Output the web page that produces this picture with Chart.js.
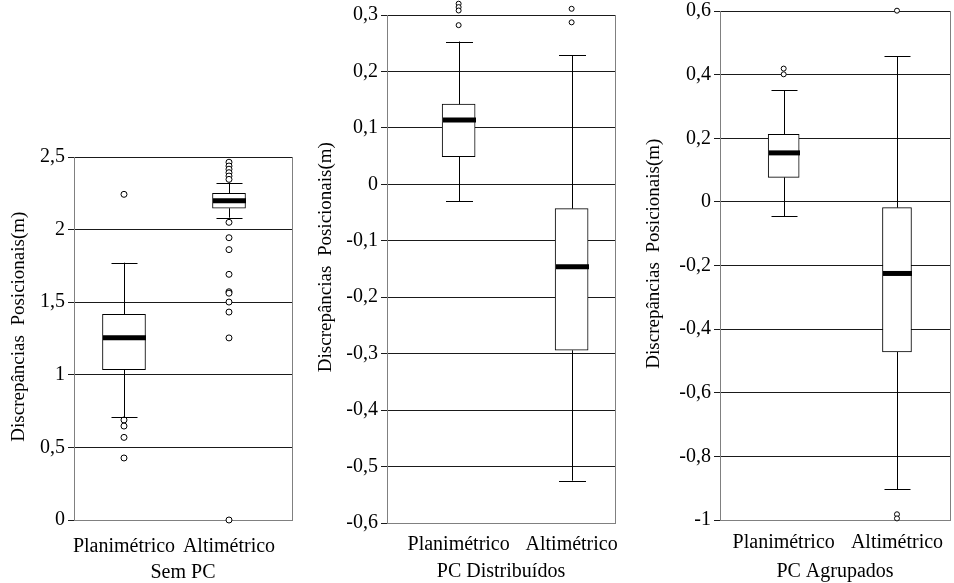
<!DOCTYPE html>
<html>
<head>
<meta charset="utf-8">
<script src="https://cdn.jsdelivr.net/npm/chart.js@4"></script>
<style>
  body { margin: 0; background: #fff; }
  canvas { position: absolute; top: 0; }
</style>
</head>
<body>
<canvas id="semPc" width="300" height="583" style="left:0"></canvas>
<canvas id="pcDist" width="320" height="583" style="left:300px"></canvas>
<canvas id="pcAgrup" width="324" height="583" style="left:630px"></canvas>
<script>
// categories and panel names
const categories = ['Planimétrico', 'Altimétrico'];
const panelTitles = ['Sem PC', 'PC Distribuídos', 'PC Agrupados'];
const yTitle = '     Discrepâncias  Posicionais(m)';

// five numbers per box: lower whisker, q1, median, q3, upper whisker
const semPcPlan = [0.707, 1.035, 1.256, 1.417, 1.772];
const semPcAlt = [2.082, 2.147, 2.199, 2.249, 2.323];
const distPlan = [-0.030, 0.049, 0.114, 0.142, 0.253];
const distAlt = [-0.525, -0.294, -0.146, -0.043, 0.229];
const agrupPlan = [-0.045, 0.077, 0.154, 0.212, 0.351];
const agrupAlt = [-0.904, -0.472, -0.225, -0.018, 0.458];

// outliers
const semPcPlanOut = [2.243, 0.689, 0.647, 0.569, 0.427];
const semPcAltOut = [2.464, 2.438, 2.416, 2.392, 2.369, 2.346, 2.05, 1.944, 1.862, 1.692, 1.572, 1.562, 1.501, 1.432, 1.254, 0.0];
const distPlanOut = [0.320, 0.314, 0.308, 0.282];
const distAltOut = [0.311, 0.287];
const agrupPlanOut = [0.419, 0.401];
const agrupAltOut = [0.601, -0.982, -0.995];

// y axis: min, max, step
const semPcTicks = [0, 2.5, 0.5];
const distTicks = [-0.6, 0.3, 0.1];
const agrupTicks = [-1, 0.6, 0.2];

Chart.defaults.font.family = "'Liberation Serif', 'Times New Roman', serif";
Chart.defaults.font.size = 20;
Chart.defaults.color = '#000';

const boxWhiskers = {
  id: 'boxWhiskers',
  afterDatasetsDraw(chart, args, opts) {
    const { ctx, chartArea, scales: { x, y } } = chart;
    ctx.save();
    // right frame line
    ctx.strokeStyle = '#808080';
    ctx.lineWidth = 1;
    ctx.beginPath();
    ctx.moveTo(Math.round(chartArea.right) + 0.5, chartArea.top);
    ctx.lineTo(Math.round(chartArea.right) + 0.5, chartArea.bottom);
    ctx.stroke();

    ctx.strokeStyle = '#000';
    opts.boxes.forEach((b, i) => {
      const cx = Math.round(x.getPixelForValue(i + 1)) + 0.5;
      const [lo, q1, med, q3, hi] = b.map(v => y.getPixelForValue(v));
      const half = opts.capWidth / 2;
      ctx.lineWidth = 1;
      ctx.beginPath();
      ctx.moveTo(cx, lo); ctx.lineTo(cx, q1);
      ctx.moveTo(cx, q3); ctx.lineTo(cx, hi);
      ctx.moveTo(cx - half, Math.round(lo) + 0.5); ctx.lineTo(cx + half, Math.round(lo) + 0.5);
      ctx.moveTo(cx - half, Math.round(hi) + 0.5); ctx.lineTo(cx + half, Math.round(hi) + 0.5);
      ctx.stroke();
      const mw = opts.widths[i] / 2;
      ctx.lineWidth = 5;
      ctx.beginPath();
      ctx.moveTo(cx - mw, med); ctx.lineTo(cx + mw, med);
      ctx.stroke();
    });
    ctx.restore();
  }
};

function makePanel(id, boxes, outliers, ticks, title, p) {
  const datasets = [];
  boxes.forEach((b, i) => {
    datasets.push({
      type: 'bar',
      data: [{ x: i + 1, y: [b[1], b[3]] }],
      backgroundColor: '#fff',
      borderColor: '#000',
      borderWidth: 1,
      borderSkipped: false,
      barThickness: p.widths[i],
      grouped: false,
      order: 2
    });
    datasets.push({
      type: 'scatter',
      data: outliers[i].map(v => ({ x: i + 1, y: v })),
      pointStyle: 'circle',
      pointRadius: p.radius,
      pointHoverRadius: 15,
      backgroundColor: '#fff',
      borderColor: '#000',
      borderWidth: 1,
      clip: false,
      order: 1
    });
  });

  new Chart(document.getElementById(id), {
    data: { datasets },
    plugins: [boxWhiskers],
    options: {
      responsive: false,
      animation: false,
      events: [],
      layout: { padding: p.padding, autoPadding: false },
      plugins: {
        legend: { display: false },
        tooltip: { enabled: false },
        boxWhiskers: { boxes, widths: p.widths, capWidth: p.cap }
      },
      scales: {
        x: {
          type: 'linear',
          offset: false,
          min: p.xRange[0],
          max: p.xRange[1],
          afterBuildTicks: s => { s.ticks = [{ value: 1 }, { value: 2 }]; },
          afterFit: s => {
            s.height = p.xHeight;
            s.paddingLeft = 0;
            s.paddingRight = 0;
          },
          ticks: {
            autoSkip: false,
            maxRotation: 0,
            padding: p.xTickPad,
            callback: v => categories[v - 1]
          },
          grid: { display: false },
          border: { color: '#808080' },
          title: {
            display: true,
            text: title,
            font: { size: 20, lineHeight: 1 },
            padding: { top: 0, bottom: p.xTitlePad }
          }
        },
        y: {
          type: 'linear',
          min: ticks[0],
          max: ticks[1],
          afterFit: s => {
            s.width = p.yWidth;
            s.paddingTop = 0;
            s.paddingBottom = 0;
          },
          ticks: {
            stepSize: ticks[2],
            padding: 3,
            callback: v => String(Math.round(v * 10) / 10).replace('.', ',')
          },
          grid: { color: '#1a1a1a', tickLength: 6 },
          border: { color: '#808080' },
          title: {
            display: true,
            text: yTitle,
            font: { size: 19, lineHeight: 1 },
            padding: { top: p.yTitlePad, bottom: 0 }
          }
        }
      }
    }
  });
}

makePanel('semPc', [semPcPlan, semPcAlt], [semPcPlanOut, semPcAltOut], semPcTicks, panelTitles[0], {
  padding: { top: 157, right: 8, bottom: 0, left: 0 },
  yWidth: 74, xHeight: 63, xRange: [0.524, 2.6], xTickPad: 7, xTitlePad: 0,
  yTitlePad: 10, widths: [43, 33], cap: 26, radius: 3
});
makePanel('pcDist', [distPlan, distAlt], [distPlanOut, distAltOut], distTicks, panelTitles[1], {
  padding: { top: 15, right: 5, bottom: 0, left: 0 },
  yWidth: 87, xHeight: 60, xRange: [0.366, 2.384], xTickPad: 2, xTitlePad: 1,
  yTitlePad: 17, widths: [33, 33], cap: 27, radius: 2.5
});
makePanel('pcAgrup', [agrupPlan, agrupAlt], [agrupPlanOut, agrupAltOut], agrupTicks, panelTitles[2], {
  padding: { top: 11, right: 4, bottom: 0, left: 0 },
  yWidth: 90, xHeight: 63, xRange: [0.438, 2.468], xTickPad: 3, xTitlePad: 1,
  yTitlePad: 15, widths: [31, 29], cap: 26, radius: 2.5
});
</script>
</body>
</html>
